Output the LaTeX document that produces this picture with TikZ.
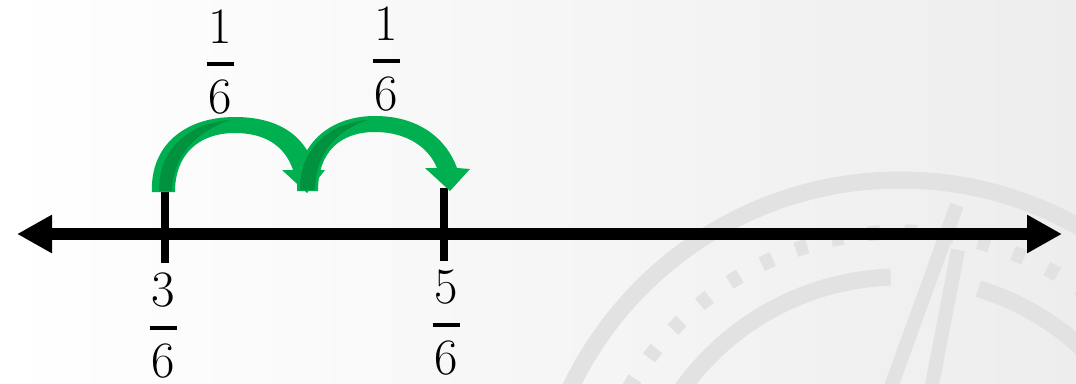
\documentclass[tikz,border=0pt]{standalone}
\usetikzlibrary{arrows.meta}
\definecolor{grn}{RGB}{0,176,80}
\definecolor{dgrn}{RGB}{0,146,63}
\definecolor{wmark}{RGB}{226,226,226}
\newcommand\myfrac[2]{\vbox{\offinterlineskip\halign{\hfil##\hfil\cr#1\cr\noalign{\kern19pt}\vrule width27pt height3.5pt depth0pt\cr\noalign{\kern14pt}#2\cr}}}
\begin{document}
\begin{tikzpicture}[x=1pt,y=-1pt,
  numfont/.style={font=\fontsize{51}{60}\selectfont, inner sep=0pt},
  numline/.style={line width=12pt, black,
    arrows={Triangle[length=35pt,width=36pt]-Triangle[length=35pt,width=36pt]}},
  tickmark/.style={line width=8pt, black},
  wm/.style={draw=wmark, line width=17pt},
  wmdots/.style={draw=wmark, line width=15pt, dash pattern=on 12pt off 25pt},
  jump/.style={fill=grn},
  jumpshade/.style={fill=dgrn}]
\useasboundingbox (0,0) rectangle (1076,383);
\shade[left color=white, right color=black!7] (0,0) rectangle (1076,383);
% compass watermark
\begin{scope}
  \clip (0,0) rectangle (1076,383);
  \coordinate (C) at (900,545);
  \draw[wm] (C) circle[radius=365];
  \draw[wmdots] (C) circle[radius=313];
  \draw[wm] ([shift={(180:268)}]C) arc[start angle=180, end angle=268, radius=268];
  \draw[wm] ([shift={(287:268)}]C) arc[start angle=287, end angle=380, radius=268];
  \draw[wm, line width=14pt] (888,395) -- (957,205);
  \draw[wm, line width=14pt] (930,395) -- (958,250);
\end{scope}
% number line
\coordinate (L) at (17,234);
\coordinate (R) at (1062,234);
\draw[numline] (L) -- (R);
\coordinate (t1a) at (164.5,192);
\coordinate (t1b) at (164.5,263);
\coordinate (t2a) at (443.5,188);
\coordinate (t2b) at (443.5,261);
\draw[tickmark] (t1a) -- (t1b);
\draw[tickmark] (t2a) -- (t2b);
% jump 1
\fill[jump] (152,192) .. controls (150,148) and (182,117) .. (235,117)
  .. controls (283,117) and (308,140) .. (315,170) -- (325,170) -- (307,193)
  -- (282,170) -- (293,170) .. controls (285,146) and (265,133) .. (235,133)
  .. controls (198,133) and (175,155) .. (175,192) -- cycle;
\fill[jumpshade] (159,191) .. controls (158,150) and (188,123) .. (230,120)
  .. controls (196,132) and (173,155) .. (172,191) -- cycle;
% jump 2
\fill[jump] (297,191) .. controls (296,146) and (328,116) .. (375,116)
  .. controls (420,116) and (447,140) .. (457,168) -- (470,169) -- (450,191)
  -- (425,168) -- (437,168) .. controls (428,146) and (405,132) .. (375,132)
  .. controls (340,132) and (318,152) .. (318,191) -- cycle;
\fill[jumpshade] (300,190) .. controls (299,150) and (328,123) .. (368,120)
  .. controls (336,131) and (316,152) .. (315,190) -- cycle;
% fractions
\node[numfont] (f1) at (220,62) {\myfrac{1}{6}};
\node[numfont] (f2) at (386,59) {\myfrac{1}{6}};
\node[numfont] (f3) at (163.5,325.5) {\myfrac{3}{6}};
\node[numfont] (f4) at (446,322.5) {\myfrac{5}{6}};
\end{tikzpicture}
\end{document}
